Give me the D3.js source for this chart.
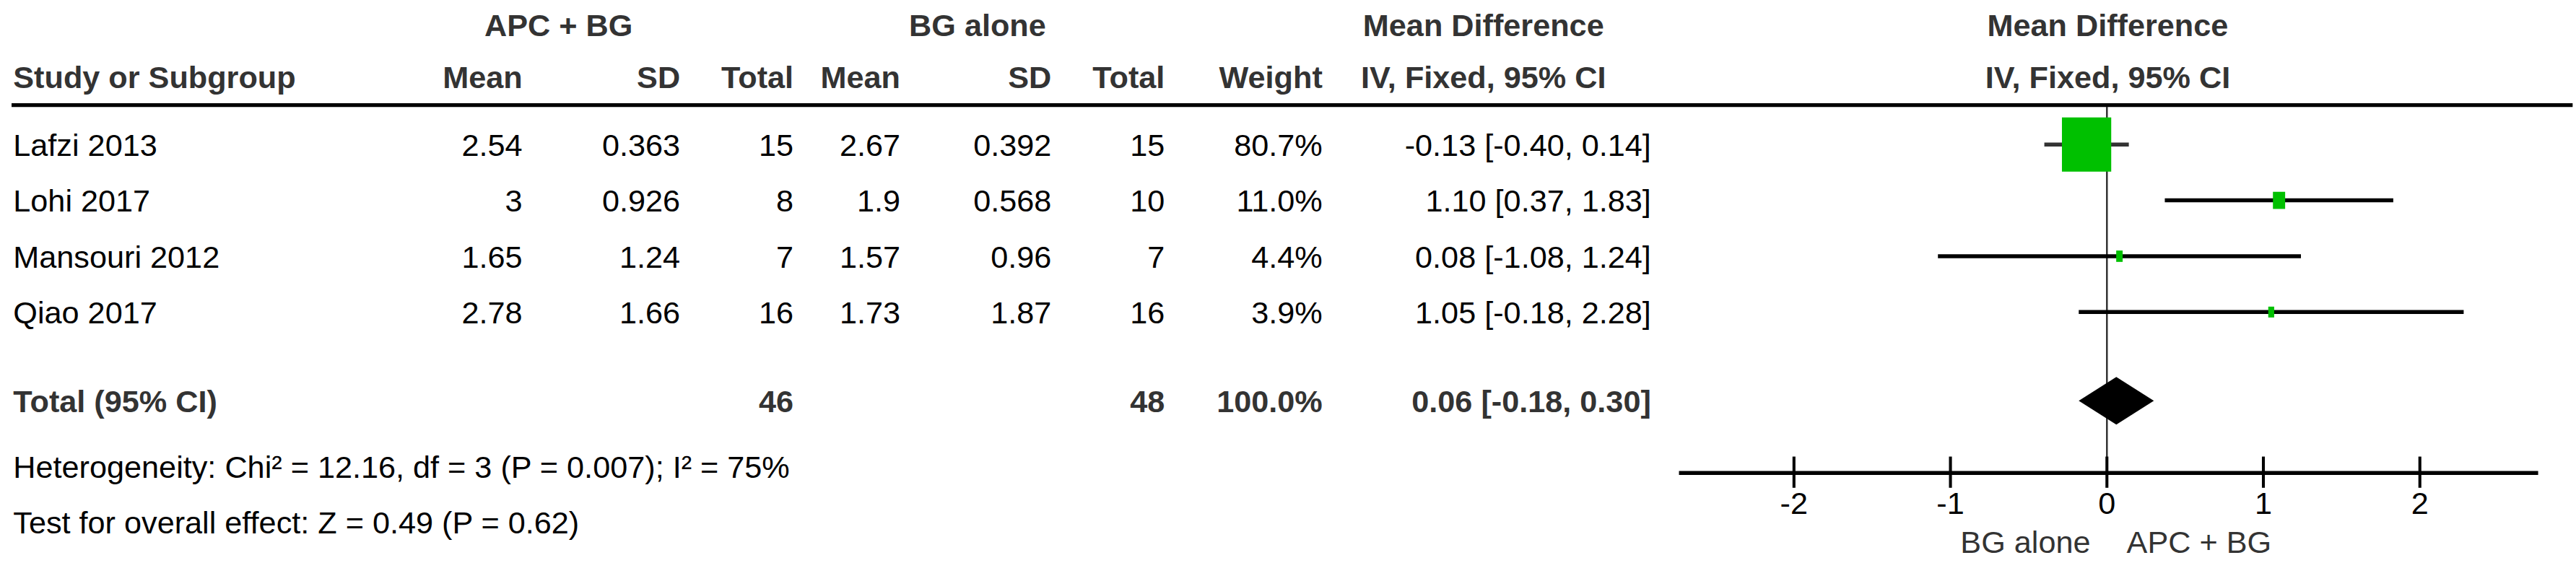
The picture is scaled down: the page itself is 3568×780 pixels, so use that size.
<!DOCTYPE html><html><head><meta charset="utf-8">
<script src="https://cdn.jsdelivr.net/npm/d3@7"></script>
<style>body{margin:0;background:#fff}text{font-family:"Liberation Sans",Arial,sans-serif}</style></head><body>
<svg id="c" width="3568" height="780" viewBox="0 0 1568 342.8"></svg>
<script>
const studies=["Lafzi 2013","Lohi 2017","Mansouri 2012","Qiao 2017"];
const expMean=["2.54","3","1.65","2.78"], expSD=["0.363","0.926","1.24","1.66"], expN=["15","8","7","16"];
const ctlMean=["2.67","1.9","1.57","1.73"], ctlSD=["0.392","0.568","0.96","1.87"], ctlN=["15","10","7","16"];
const weights=[80.7,11.0,4.4,3.9];
const md=[-0.13,1.10,0.08,1.05], lo=[-0.40,0.37,-1.08,-0.18], hi=[0.14,1.83,1.24,2.28];
const total={label:"Total (95% CI)",expN:"46",ctlN:"48",weight:"100.0%",md:0.06,lo:-0.18,hi:0.30};
const ticks=[-2,-1,0,1,2];
const het="Heterogeneity: Chi² = 12.16, df = 3 (P = 0.007); I² = 75%";
const test="Test for overall effect: Z = 0.49 (P = 0.62)";

const svg=d3.select("#c");
const x=d3.scaleLinear().domain([-2,2]).range([1092,1473]);
const rowY=d3.scalePoint().domain(studies).range([88,190]);
const fs=19, dark="#333";
function t(xp,y,s,anchor,opt={}){return svg.append("text").attr("x",xp).attr("y",y).attr("dy","0.36em")
 .attr("text-anchor",anchor).attr("font-size",fs).attr("fill",opt.fill||"#000").attr("font-weight",opt.bold?"bold":null).text(s);}
[["APC + BG",340],["BG alone",595],["Mean Difference",903],["Mean Difference",1283]].forEach(h=>t(h[1],15,h[0],"middle",{bold:1,fill:dark}));
t(8,47,"Study or Subgroup","start",{bold:1,fill:dark});
const cols=[318,414,483,548,640,709,805];
["Mean","SD","Total","Mean","SD","Total","Weight"].forEach((h,i)=>t(cols[i],47,h,"end",{bold:1,fill:dark}));
t(903,47,"IV, Fixed, 95% CI","middle",{bold:1,fill:dark});
t(1283,47,"IV, Fixed, 95% CI","middle",{bold:1,fill:dark});
svg.append("line").attr("x1",7).attr("x2",1566).attr("y1",64).attr("y2",64).attr("stroke","#000").attr("stroke-width",2.4);
svg.append("line").attr("x1",x(0)).attr("x2",x(0)).attr("y1",65).attr("y2",288).attr("stroke","#333").attr("stroke-width",1.1);
const f2=v=>v.toFixed(2);
studies.forEach((s,i)=>{
 const y=rowY(s);
 t(8,y,s,"start");
 [expMean[i],expSD[i],expN[i],ctlMean[i],ctlSD[i],ctlN[i],weights[i].toFixed(1)+"%"].forEach((v,j)=>t(cols[j],y,v,"end"));
 t(1005,y,`${f2(md[i])} [${f2(lo[i])}, ${f2(hi[i])}]`,"end");
 svg.append("line").attr("x1",x(lo[i])).attr("x2",x(hi[i])).attr("y1",y).attr("y2",y).attr("stroke",i==0?"#333":"#000").attr("stroke-width",2.4);
 const side=30*Math.pow(weights[i]/80.7,0.7);
 svg.append("rect").attr("x",x(md[i])-side/2).attr("y",y-side/2-1.5).attr("width",side).attr("height",side+3).attr("fill","#00c000");
});
const ty=244;
t(8,ty,total.label,"start",{bold:1,fill:dark});
t(cols[2],ty,total.expN,"end",{bold:1,fill:dark});
t(cols[5],ty,total.ctlN,"end",{bold:1,fill:dark});
t(cols[6],ty,total.weight,"end",{bold:1,fill:dark});
t(1005,ty,`${f2(total.md)} [${f2(total.lo)}, ${f2(total.hi)}]`,"end",{bold:1,fill:dark});
svg.append("path").attr("d",`M${x(total.lo)},${ty}L${x(total.md)},${ty-14.5}L${x(total.hi)},${ty}L${x(total.md)},${ty+14.5}Z`).attr("fill","#000");
t(8,284,het,"start");
t(8,318,test,"start");
svg.append("line").attr("x1",1022).attr("x2",1545).attr("y1",288).attr("y2",288).attr("stroke","#000").attr("stroke-width",2.4);
ticks.forEach(v=>{
 svg.append("line").attr("x1",x(v)).attr("x2",x(v)).attr("y1",278).attr("y2",297).attr("stroke","#000").attr("stroke-width",1.8);
 t(x(v),306,v<0?"-"+Math.abs(v):String(v),"middle");
});
t(x(0)-10,330,"BG alone","end",{fill:dark});
t(x(0)+12,330,"APC + BG","start",{fill:dark});
</script></body></html>
